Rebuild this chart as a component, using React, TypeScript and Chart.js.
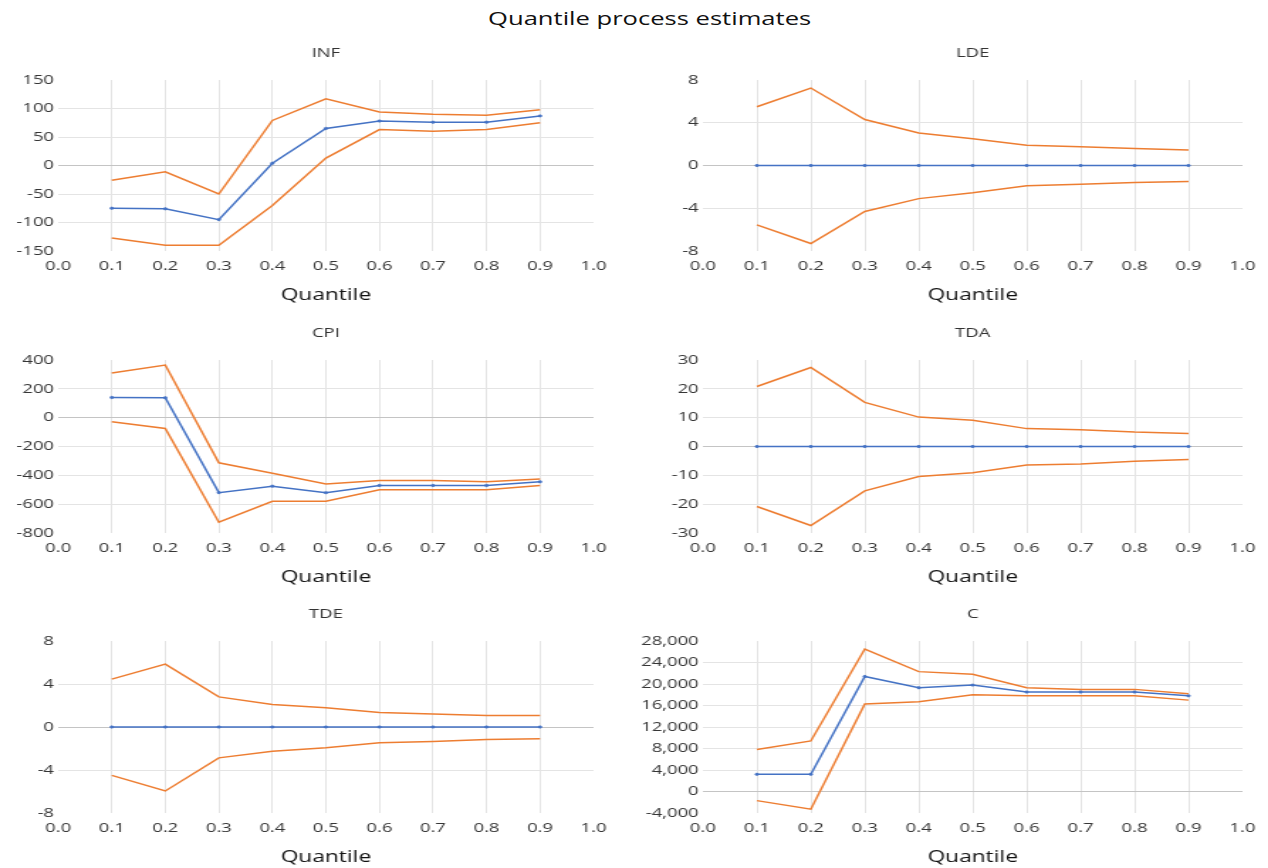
import React, { useEffect, useRef } from "react";
import { Chart, registerables } from "chart.js";

Chart.register(...registerables);

// ---------- data ----------
const quantiles = [0.1, 0.2, 0.3, 0.4, 0.5, 0.6, 0.7, 0.8, 0.9];

const infEstimate = [-75, -76, -95, 4, 65, 78, 76, 76, 87];
const infUpper = [-26, -11, -50, 79, 117, 94, 90, 88, 98];
const infLower = [-127, -140, -140, -70, 13, 63, 60, 63, 75];

const ldeEstimate = [0, 0, 0, 0, 0, 0, 0, 0, 0];
const ldeUpper = [5.5, 7.25, 4.3, 3.05, 2.5, 1.9, 1.75, 1.6, 1.45];
const ldeLower = [-5.55, -7.3, -4.3, -3.1, -2.55, -1.9, -1.75, -1.6, -1.5];

const cpiEstimate = [140, 138, -520, -475, -520, -470, -470, -470, -445];
const cpiUpper = [310, 365, -313, -385, -460, -435, -435, -445, -425];
const cpiLower = [-28, -75, -725, -580, -580, -500, -500, -500, -470];

const tdaEstimate = [0, 0, 0, 0, 0, 0, 0, 0, 0];
const tdaUpper = [20.8, 27.4, 15.3, 10.2, 9.1, 6.2, 5.8, 5.0, 4.55];
const tdaLower = [-20.8, -27.4, -15.4, -10.4, -9.1, -6.4, -6.1, -5.1, -4.55];

const tdeEstimate = [0, 0, 0, 0, 0, 0, 0, 0, 0];
const tdeUpper = [4.45, 5.85, 2.8, 2.1, 1.8, 1.35, 1.2, 1.07, 1.07];
const tdeLower = [-4.5, -5.95, -2.87, -2.25, -1.92, -1.46, -1.34, -1.16, -1.1];

const cEstimate = [3200, 3200, 21400, 19300, 19800, 18500, 18500, 18500, 17800];
const cUpper = [7800, 9400, 26500, 22300, 21800, 19300, 19000, 19000, 18200];
const cLower = [-1700, -3300, 16300, 16700, 18000, 17800, 17800, 17800, 17000];

const chartTitle = "Quantile process estimates";
const xAxisTitle = "Quantile";

// ---------- style ----------
const STRETCH = 1.42;
const FONT = "'Open Sans', 'DejaVu Sans', sans-serif";
const BLUE = "#4472C4";
const ORANGE = "#ED7D31";
const GRID = "#e4e4e4";
const ZERO = "#c4c4c4";
const TICK_COLOR = "#363636";

type PanelProps = {
  title: string;
  est: number[];
  upper: number[];
  lower: number[];
  yMin: number;
  yMax: number;
  yStep: number;
  left: number;
  top: number;
  width: number;
  height: number;
  yAxisWidth: number;
  padRight: number;
};

function Panel(p: PanelProps) {
  const ref = useRef<HTMLCanvasElement | null>(null);
  useEffect(() => {
    const canvas = ref.current;
    if (!canvas) return;
    const toPts = (arr: number[]) => quantiles.map((q, i) => ({ x: q, y: arr[i] }));
    const chart = new Chart(canvas, {
      type: "line",
      data: {
        datasets: [
          {
            label: "Estimate",
            data: toPts(p.est),
            xAxisID: "x",
            yAxisID: "y",
            borderColor: BLUE,
            backgroundColor: BLUE,
            borderWidth: 1.5,
            pointRadius: 1.2,
            pointBorderWidth: 0.6,
            tension: 0,
          },
          {
            label: "Upper",
            data: toPts(p.upper),
            xAxisID: "x",
            yAxisID: "y",
            borderColor: ORANGE,
            backgroundColor: ORANGE,
            borderWidth: 1.5,
            pointRadius: 0,
            tension: 0,
          },
          {
            label: "Lower",
            data: toPts(p.lower),
            xAxisID: "x",
            yAxisID: "y",
            borderColor: ORANGE,
            backgroundColor: ORANGE,
            borderWidth: 1.5,
            pointRadius: 0,
            tension: 0,
          },
        ],
      },
      options: {
        responsive: false,
        animation: false,
        events: [],
        layout: { padding: { left: 0, right: p.padRight, top: 0, bottom: 0 } },
        plugins: {
          legend: { display: false },
          tooltip: { enabled: false },
          title: { display: false },
        },
        scales: {
          x: {
            type: "linear",
            position: "bottom",
            min: 0,
            max: 1,
            ticks: {
              stepSize: 0.1,
              autoSkip: false,
              maxRotation: 0,
              padding: 7,
              color: TICK_COLOR,
              font: { family: FONT, size: 13 },
              callback: (v: any) => Number(v).toFixed(1),
            },
            grid: {
              drawTicks: false,
              lineWidth: 1,
              color: (ctx: any) => {
                const v = ctx.tick ? ctx.tick.value : 0.5;
                return v < 0.001 || v > 0.999 ? "rgba(0,0,0,0)" : GRID;
              },
            },
            border: { display: false },
            title: {
              display: true,
              text: xAxisTitle,
              color: "#111111",
              font: { family: FONT, size: 16 },
              padding: { top: 0, bottom: 1 },
            },
            afterFit: (s: any) => {
              s.height = 55;
            },
          },
          xTop: {
            type: "linear",
            position: "top",
            min: 0,
            max: 1,
            ticks: { display: false },
            grid: { display: false, drawTicks: false },
            border: { display: false },
            title: {
              display: true,
              text: p.title,
              color: "#333333",
              font: { family: FONT, size: 13 },
              padding: { top: 5, bottom: 0 },
            },
            afterFit: (s: any) => {
              s.height = 40;
            },
          },
          y: {
            type: "linear",
            min: p.yMin,
            max: p.yMax,
            ticks: {
              stepSize: p.yStep,
              padding: 3,
              color: TICK_COLOR,
              font: { family: FONT, size: 13 },
            },
            grid: {
              drawTicks: false,
              lineWidth: 1,
              color: (ctx: any) => {
                const v = ctx.tick ? ctx.tick.value : 1;
                if (v === 0) return ZERO;
                if (v <= p.yMin || v >= p.yMax) return "rgba(0,0,0,0)";
                return GRID;
              },
            },
            border: { display: false },
            afterFit: (s: any) => {
              s.width = p.yAxisWidth;
            },
          },
        },
      } as any,
    });
    return () => chart.destroy();
  }, []);
  return (
    <canvas
      ref={ref}
      width={p.width}
      height={p.height}
      style={{ position: "absolute", left: p.left, top: p.top }}
    />
  );
}

export default function App() {
  const W = 1268 / STRETCH;
  const leftCol = { left: 0, width: 440, yAxisWidth: 41, padRight: 22 };
  const rightCol = { left: 447, width: Math.round(W) - 447, yAxisWidth: 48, padRight: 18 };
  const rows = [
    { top: 40, height: 40 + 171 + 55 },
    { top: 320, height: 40 + 173 + 55 },
    { top: 601, height: 40 + 172 + 55 },
  ];
  return (
    <div
      style={{
        position: "absolute",
        left: 0,
        top: 0,
        width: W,
        height: 868,
        background: "#ffffff",
        overflow: "hidden",
        transform: `scaleX(${STRETCH})`,
        transformOrigin: "0 0",
      }}
    >
      <div
        style={{
          position: "absolute",
          left: 0,
          top: 6,
          width: 915,
          textAlign: "center",
          fontFamily: FONT,
          fontSize: 18,
          lineHeight: "24px",
          color: "#111111",
        }}
      >
        {chartTitle}
      </div>
      <Panel title="INF" est={infEstimate} upper={infUpper} lower={infLower} yMin={-150} yMax={150} yStep={50} {...leftCol} {...rows[0]} />
      <Panel title="LDE" est={ldeEstimate} upper={ldeUpper} lower={ldeLower} yMin={-8} yMax={8} yStep={4} {...rightCol} {...rows[0]} />
      <Panel title="CPI" est={cpiEstimate} upper={cpiUpper} lower={cpiLower} yMin={-800} yMax={400} yStep={200} {...leftCol} {...rows[1]} />
      <Panel title="TDA" est={tdaEstimate} upper={tdaUpper} lower={tdaLower} yMin={-30} yMax={30} yStep={10} {...rightCol} {...rows[1]} />
      <Panel title="TDE" est={tdeEstimate} upper={tdeUpper} lower={tdeLower} yMin={-8} yMax={8} yStep={4} {...leftCol} {...rows[2]} />
      <Panel title="C" est={cEstimate} upper={cUpper} lower={cLower} yMin={-4000} yMax={28000} yStep={4000} {...rightCol} {...rows[2]} />
    </div>
  );
}
